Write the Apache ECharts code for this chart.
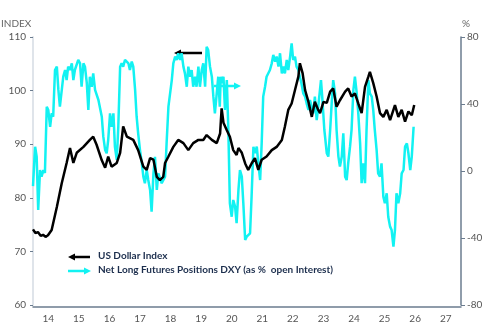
<!DOCTYPE html>
<html>
<head>
<meta charset="utf-8">
<script src="https://cdn.jsdelivr.net/npm/echarts@6/dist/echarts.min.js"></script>
<style>
  html, body { margin: 0; padding: 0; background: #fff; }
  #main { width: 494px; height: 328px; }
</style>
</head>
<body>
<div id="main"></div>
<script>
// year labels on the x axis
var yearLabels = ['14', '15', '16', '17', '18', '19', '20', '21', '22', '23', '24', '25', '26', '27'];

// US Dollar Index, [year, index]
var usdIndex = [
  [2014.00, 74.1], [2014.08, 73.4], [2014.16, 73.6], [2014.25, 72.9], [2014.33, 73.1],
  [2014.41, 72.7], [2014.49, 73.0], [2014.61, 74.0],
  [2014.78, 78.3], [2014.94, 82.7], [2015.10, 86.5], [2015.21, 89.3], [2015.32, 86.5],
  [2015.43, 88.4], [2015.65, 89.5], [2015.86, 90.8], [2015.97, 91.4], [2016.08, 89.9],
  [2016.25, 87.0], [2016.36, 85.6], [2016.46, 87.7], [2016.57, 85.8], [2016.74, 86.5],
  [2016.85, 88.4], [2016.95, 93.3], [2017.01, 93.3], [2017.07, 91.4], [2017.12, 91.4],
  [2017.28, 90.8], [2017.44, 88.9], [2017.61, 85.8], [2017.72, 85.2], [2017.83, 87.4],
  [2017.94, 87.1], [2018.05, 83.9], [2018.15, 83.3], [2018.26, 83.9], [2018.32, 86.5],
  [2018.43, 87.7], [2018.59, 89.5], [2018.75, 90.8], [2018.92, 90.2], [2019.08, 88.9],
  [2019.24, 90.2], [2019.41, 90.8], [2019.57, 90.8], [2019.68, 91.7], [2019.85, 90.8],
  [2020.01, 90.2], [2020.12, 92.0], [2020.17, 96.7], [2020.23, 94.0], [2020.34, 92.6],
  [2020.44, 91.4], [2020.55, 88.9], [2020.66, 88.0], [2020.72, 89.3], [2020.83, 88.4],
  [2020.94, 86.4], [2021.04, 85.2], [2021.15, 86.4], [2021.26, 87.4], [2021.37, 85.2],
  [2021.48, 87.1], [2021.64, 87.7], [2021.81, 88.9], [2021.97, 89.5], [2022.14, 90.8],
  [2022.24, 93.3], [2022.35, 96.4], [2022.46, 97.6], [2022.57, 100.1], [2022.68, 102.6],
  [2022.73, 105.1], [2022.82, 103.2], [2022.90, 100.1], [2023.01, 97.9], [2023.12, 95.1],
  [2023.22, 97.9], [2023.33, 96.4], [2023.39, 95.8], [2023.50, 97.9], [2023.61, 97.7],
  [2023.72, 99.8], [2023.82, 100.4], [2023.93, 97.0], [2024.04, 98.2], [2024.21, 99.8],
  [2024.31, 100.4], [2024.42, 98.9], [2024.53, 99.5], [2024.64, 97.6], [2024.75, 95.8],
  [2024.86, 100.7], [2024.97, 102.6], [2025.02, 103.5], [2025.13, 101.4], [2025.24, 98.9],
  [2025.35, 95.8], [2025.46, 95.1], [2025.57, 96.4], [2025.68, 94.5], [2025.84, 97.3],
  [2025.95, 95.1], [2026.06, 96.4], [2026.17, 94.2], [2026.28, 96.1], [2026.39, 95.4],
  [2026.47, 97.3]
];

// Net long futures positions DXY, % of open interest, [year, pct]
var netLong = [
  [2014.00, -9.0], [2014.05, 8.5], [2014.07, 14.5], [2014.12, 8.5], [2014.17, -23.3],
  [2014.23, 0.6], [2014.28, -3.4], [2014.34, 0.6], [2014.39, -1.2], [2014.45, 38.4],
  [2014.50, 36.4], [2014.56, 26.4], [2014.61, 34.4], [2014.66, 32.4], [2014.72, 60.3],
  [2014.78, 62.3], [2014.83, 48.4], [2014.88, 38.4], [2014.94, 37.6], [2014.99, 56.3],
  [2015.05, 60.3], [2015.10, 54.3], [2015.15, 62.3], [2015.21, 60.3], [2015.27, 64.3],
  [2015.32, 54.3], [2015.37, 60.3], [2015.48, 66.3], [2015.54, 64.3], [2015.59, 50.3],
  [2015.65, 64.3], [2015.70, 62.3], [2015.76, 52.4], [2015.81, 36.4], [2015.86, 56.3],
  [2015.92, 50.3], [2015.97, 58.3], [2016.03, 48.4], [2016.14, 42.4], [2016.25, 32.4],
  [2016.30, 20.5], [2016.36, 12.5], [2016.41, 10.6], [2016.46, 18.5], [2016.52, 34.4],
  [2016.57, 26.4], [2016.63, 34.4], [2016.68, 14.5], [2016.74, 6.6], [2016.79, 26.4],
  [2016.85, 62.3], [2016.90, 64.3], [2016.95, 62.3], [2017.01, 66.3], [2017.12, 64.3],
  [2017.17, 60.3], [2017.23, 65.3], [2017.28, 62.3], [2017.34, 48.4], [2017.39, 32.4],
  [2017.44, 22.5], [2017.50, 12.5], [2017.56, 4.6], [2017.61, -3.4], [2017.66, -7.3],
  [2017.72, 0.6], [2017.77, -5.4], [2017.83, -11.3], [2017.88, -24.3], [2017.94, -1.4],
  [2017.99, 8.5], [2018.05, -11.3], [2018.10, -1.4], [2018.21, -7.3], [2018.32, -3.4],
  [2018.37, 16.5], [2018.43, 38.4], [2018.48, 38.4], [2018.54, 54.3], [2018.59, 64.3],
  [2018.65, 68.3], [2018.70, 66.3], [2018.75, 70.3], [2018.81, 66.3], [2018.86, 70.3],
  [2018.92, 62.3], [2018.97, 58.3], [2019.03, 50.3], [2019.08, 62.3], [2019.14, 56.3],
  [2019.19, 60.3], [2019.24, 50.3], [2019.30, 56.3], [2019.35, 50.3], [2019.41, 62.3],
  [2019.46, 50.3], [2019.52, 60.3], [2019.57, 64.3], [2019.63, 50.3], [2019.68, 74.2],
  [2019.73, 72.2], [2019.79, 62.3], [2019.85, 56.3], [2019.90, 44.4], [2019.95, 34.4],
  [2020.01, 46.4], [2020.06, 56.3], [2020.11, 38.4], [2020.14, 56.3], [2020.17, 52.4],
  [2020.23, 56.3], [2020.28, 36.4], [2020.34, 54.3], [2020.39, 24.5], [2020.44, -19.3],
  [2020.50, -27.3], [2020.55, -17.3], [2020.61, -21.3], [2020.66, -31.2], [2020.72, -11.3],
  [2020.77, 0.6], [2020.83, -3.4], [2020.88, -19.3], [2020.94, -41.2], [2020.99, -39.2],
  [2021.10, -37.2], [2021.15, -15.3], [2021.21, 14.5], [2021.26, 10.6], [2021.32, 14.5],
  [2021.37, 4.6], [2021.43, -5.4], [2021.48, 16.5], [2021.53, 44.4], [2021.59, 50.3],
  [2021.64, 56.3], [2021.75, 60.3], [2021.81, 64.3], [2021.86, 69.3], [2021.92, 65.3],
  [2021.97, 68.3], [2022.03, 62.3], [2022.08, 70.3], [2022.14, 58.3], [2022.19, 62.3],
  [2022.24, 58.3], [2022.30, 66.3], [2022.35, 60.3], [2022.41, 68.3], [2022.46, 76.2],
  [2022.51, 66.3], [2022.57, 68.3], [2022.62, 62.3], [2022.68, 60.3], [2022.73, 56.3],
  [2022.78, 52.4], [2022.84, 46.4], [2022.90, 44.4], [2022.95, 40.4], [2023.01, 36.4],
  [2023.06, 42.4], [2023.17, 34.4], [2023.22, 44.4], [2023.28, 30.4], [2023.33, 38.4],
  [2023.42, 54.3], [2023.46, 44.4], [2023.53, 24.5], [2023.61, 10.6], [2023.66, 8.6],
  [2023.72, 24.5], [2023.77, 40.4], [2023.82, 54.3], [2023.88, 46.4], [2023.93, 24.5],
  [2023.99, 8.6], [2024.04, 2.6], [2024.10, 8.6], [2024.15, 22.5], [2024.21, -3.4],
  [2024.26, -5.4], [2024.31, 4.6], [2024.37, 14.5], [2024.42, 24.5], [2024.48, 48.4],
  [2024.53, 56.3], [2024.59, 46.4], [2024.64, 34.4], [2024.70, 16.5], [2024.75, -7.3],
  [2024.80, 4.6], [2024.86, -7.3], [2024.91, 24.5], [2024.97, 54.3], [2025.02, 46.4],
  [2025.08, 44.4], [2025.13, 36.4], [2025.18, 24.5], [2025.24, 12.5], [2025.29, -1.4],
  [2025.35, -3.4], [2025.40, 4.6], [2025.46, -15.3], [2025.51, -19.3], [2025.57, -13.3],
  [2025.62, -27.3], [2025.68, -33.2], [2025.73, -35.2], [2025.79, -45.2], [2025.84, -35.2],
  [2025.89, -13.3], [2025.95, -19.3], [2026.01, -13.3], [2026.06, -1.4], [2026.12, 0.6],
  [2026.17, 14.5], [2026.23, 16.5], [2026.28, 10.6], [2026.34, 0.6], [2026.39, 8.6],
  [2026.45, 26.4]
];

var chart = echarts.init(document.getElementById('main'));

var slate = '#6b7c8f';
var labelColor = '#555';
var cyan = '#12f2f2';

function arrow(x1, x2, y, color, head) {
  // x2 is the tip
  var dir = x2 > x1 ? 1 : -1;
  var base = x2 - dir * head;
  return [
    {
      type: 'line',
      shape: { x1: x1, y1: y, x2: base, y2: y },
      style: { stroke: color, lineWidth: 2.5 }
    },
    {
      type: 'polygon',
      shape: { points: [[x2, y], [base, y - 3.5], [base, y + 3.5]] },
      style: { fill: color }
    }
  ];
}

var graphics = []
  .concat(arrow(202, 174, 53, '#000', 7))
  .concat(arrow(214, 241, 86, cyan, 7))
  .concat(arrow(90, 68, 257, '#000', 7))
  .concat(arrow(68, 91, 271, cyan, 7));

graphics.push(
  {
    type: 'text', left: 1, top: 19,
    style: { text: 'INDEX', fill: '#666', font: '10px Lato' }
  },
  {
    type: 'text', left: 462, top: 19,
    style: { text: '%', fill: '#666', font: '10px Lato' }
  },
  {
    type: 'text', left: 98, top: 251,
    style: { text: 'US Dollar Index', fill: '#1c2e4d', font: 'bold 10px Lato' }
  },
  {
    type: 'text', left: 98, top: 265,
    style: { text: 'Net Long Futures Positions DXY (as %  open Interest)', fill: '#1c2e4d', font: 'bold 10px Lato' }
  }
);

var option = {
  animation: false,
  backgroundColor: '#fff',
  grid: { left: 33, right: 33, top: 37, bottom: 23, containLabel: false },
  graphic: graphics,
  xAxis: [
    {
      type: 'category',
      data: yearLabels,
      boundaryGap: true,
      offset: 2,
      axisLine: { onZero: false, lineStyle: { color: slate, width: 1.5 } },
      axisTick: { length: 5, lineStyle: { color: slate } },
      axisLabel: { color: labelColor, fontSize: 10, fontFamily: 'Lato', margin: 7 },
      splitLine: { show: false }
    },
    {
      type: 'value',
      min: 2014,
      max: 2028,
      show: false,
      axisLine: { onZero: false },
      splitLine: { show: false }
    }
  ],
  yAxis: [
    {
      type: 'value',
      min: 60,
      max: 110,
      interval: 10,
      axisLine: { show: true, onZero: false, lineStyle: { color: '#dfe4ea', width: 2 } },
      axisTick: { show: true, length: 3, lineStyle: { color: slate } },
      axisLabel: { color: labelColor, fontSize: 10, fontFamily: 'Lato', margin: 7 },
      splitLine: { show: false }
    },
    {
      type: 'value',
      position: 'right',
      min: -80,
      max: 80,
      interval: 40,
      axisLine: { show: true, onZero: false, lineStyle: { color: slate, width: 1.5 } },
      axisTick: { show: true, length: 4, lineStyle: { color: slate } },
      axisLabel: { color: labelColor, fontSize: 10, fontFamily: 'Lato', margin: 6 },
      splitLine: { show: false }
    }
  ],
  series: [
    {
      name: 'Net Long Futures Positions DXY (as %  open Interest)',
      type: 'line',
      xAxisIndex: 1,
      yAxisIndex: 1,
      data: netLong,
      showSymbol: false,
      lineStyle: { color: cyan, width: 2.5 },
      z: 2
    },
    {
      name: 'US Dollar Index',
      type: 'line',
      xAxisIndex: 1,
      yAxisIndex: 0,
      data: usdIndex,
      showSymbol: false,
      lineStyle: { color: '#000', width: 2.5 },
      z: 3
    }
  ]
};

chart.setOption(option);
window.onresize = chart.resize;
</script>
</body>
</html>
